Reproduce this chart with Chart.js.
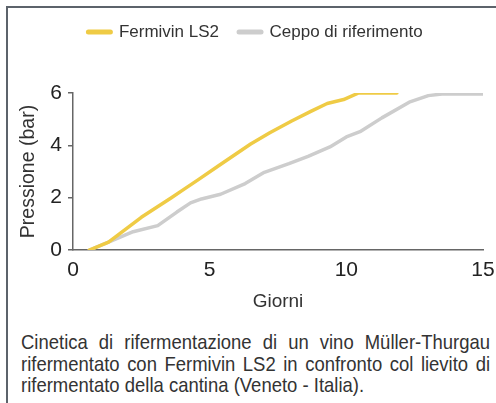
<!DOCTYPE html>
<html>
<head>
<meta charset="utf-8">
<script src="https://cdn.jsdelivr.net/npm/chart.js@4/dist/chart.umd.min.js"></script>
<style>
  html, body { margin: 0; padding: 0; background: #fff; }
  body { width: 496px; height: 403px; position: relative; overflow: hidden; }
  #frame { position: absolute; left: 6px; top: 6px; width: 500px; height: 420px;
           border-left: 2px solid #5c636b; border-top: 2px solid #5c636b; }
  #wrap { position: absolute; left: 0; top: 0; width: 496px; height: 320px; }
  #caption { position: absolute; left: 21px; top: 331px; width: 533px;
             transform: scaleX(0.88); transform-origin: 0 0;
             font-family: "Liberation Sans", Arial, sans-serif;
             font-size: 21px; line-height: 21.7px; color: #333; }
  #caption div { text-align: justify; text-align-last: justify; white-space: nowrap; }
  #caption div.last { text-align-last: left; }
</style>
</head>
<body>
<div id="frame"></div>
<div id="wrap"><canvas id="c" width="496" height="320"></canvas></div>
<div id="caption">
  <div>Cinetica di rifermentazione di un vino Müller-Thurgau</div>
  <div>rifermentato con Fermivin LS2 in confronto col lievito di</div>
  <div class="last">rifermentato della cantina (Veneto - Italia).</div>
</div>
<script>
const seriesNames = ["Fermivin LS2", "Ceppo di riferimento"];
const fermivinDays = [0.6, 1.3, 2.5, 3.6, 4.0, 4.6, 5.3, 6.0, 6.5, 7.2, 8.0, 8.7, 9.3, 9.9, 10.45, 11.85];
const fermivinBar  = [0, 0.3, 1.25, 2.0, 2.28, 2.7, 3.2, 3.7, 4.05, 4.48, 4.93, 5.3, 5.6, 5.75, 6.0, 6.0];
const ceppoDays = [0.6, 1.3, 2.2, 3.1, 3.8, 4.3, 4.7, 5.4, 6.3, 7.0, 7.9, 8.6, 9.4, 10.0, 10.5, 11.3, 12.3, 13.0, 13.5, 15.0];
const ceppoBar  = [0, 0.3, 0.7, 0.93, 1.45, 1.8, 1.95, 2.13, 2.54, 2.97, 3.3, 3.58, 3.94, 4.32, 4.52, 5.05, 5.65, 5.9, 5.96, 5.96];
const xTickValues = [0, 5, 10, 15];
const yLabelledTicks = [0, 2, 4, 6];
const xTitle = "Giorni";
const yTitle = "Pressione (bar)";

const toPts = (xs, ys) => xs.map((x, i) => ({x: x, y: ys[i]}));

const legendFitPlugin = {
  id: 'legendFit',
  beforeInit(chart) {
    const lg = chart.legend;
    if (!lg) return;
    const orig = lg.fit;
    lg.fit = function () { orig.call(this); this.height = 93 - 3.5; };
  }
};

new Chart(document.getElementById('c'), {
  type: 'line',
  plugins: [legendFitPlugin],
  data: {
    datasets: [
      { label: seriesNames[0], data: toPts(fermivinDays, fermivinBar),
        borderColor: '#efcb45', backgroundColor: '#efcb45', borderWidth: 3.5,
        pointRadius: 0, tension: 0, borderCapStyle: 'round', borderJoinStyle: 'round' },
      { label: seriesNames[1], data: toPts(ceppoDays, ceppoBar),
        borderColor: '#cdcdcd', backgroundColor: '#cdcdcd', borderWidth: 3.5,
        pointRadius: 0, tension: 0, borderCapStyle: 'round', borderJoinStyle: 'round' }
    ]
  },
  options: {
    responsive: false,
    animation: false,
    layout: { padding: { left: 28, right: 13, top: 3.5, bottom: 0 } },
    plugins: {
      tooltip: { enabled: false },
      legend: {
        position: 'top',
        labels: {
          usePointStyle: true,
          pointStyle: 'line',
          pointStyleWidth: 22,
          padding: 20,
          color: '#333',
          font: { family: '"Liberation Sans", Arial, sans-serif', size: 17 },
          generateLabels(chart) {
            const items = Chart.defaults.plugins.legend.labels.generateLabels(chart);
            items.forEach(it => { it.lineWidth = 5; it.lineCap = 'round'; it.pointStyle = 'line'; });
            return items;
          }
        }
      }
    },
    scales: {
      x: {
        type: 'linear', min: 0, max: 15,
        afterBuildTicks(scale) { scale.ticks = xTickValues.map(v => ({value: v})); },
        afterFit(scale) { scale.height = 70; scale.paddingLeft = 0; scale.paddingRight = 0; },
        grid: { display: false, drawTicks: false },
        border: { display: true, color: '#666', width: 1.5 },
        ticks: { padding: 8, color: '#222', maxRotation: 0,
                 font: { family: '"Liberation Sans", Arial, sans-serif', size: 21 } },
        title: { display: true, text: xTitle, color: '#333', padding: { top: 0, bottom: 7 },
                 font: { family: '"Liberation Sans", Arial, sans-serif', size: 19 } }
      },
      y: {
        type: 'linear', min: 0, max: 6,
        afterFit(scale) { scale.width = 45; },
        grid: { drawOnChartArea: false, drawTicks: true, tickLength: 5, color: '#666', lineWidth: 1.5 },
        border: { display: true, color: '#666', width: 1.5 },
        ticks: { stepSize: 1, padding: 6, color: '#222',
                 callback: v => (yLabelledTicks.includes(v) ? String(v) : ''),
                 font: { family: '"Liberation Sans", Arial, sans-serif', size: 21 } },
        title: { display: true, text: yTitle, color: '#333', padding: { top: -10.8, bottom: 0 },
                 font: { family: '"Liberation Sans", Arial, sans-serif', size: 19.5 } }
      }
    }
  }
});
</script>
</body>
</html>
